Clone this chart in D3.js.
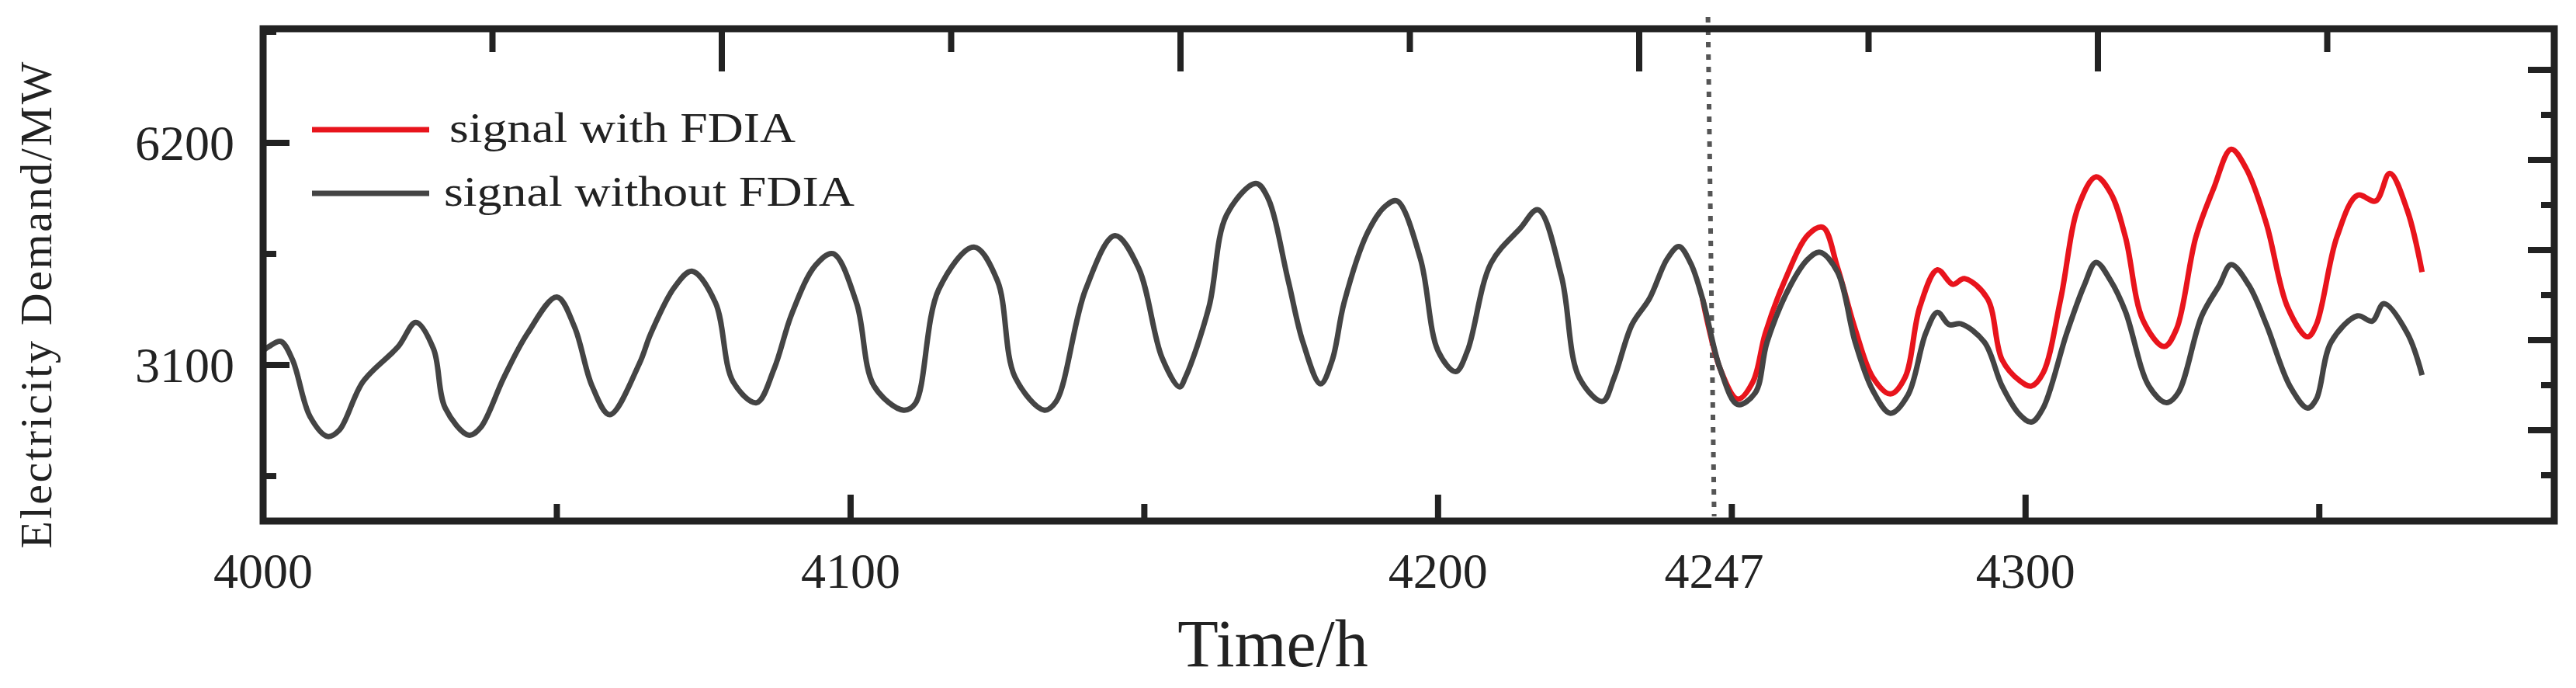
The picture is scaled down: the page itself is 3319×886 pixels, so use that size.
<!DOCTYPE html>
<html lang="en">
<head>
<meta charset="UTF-8">
<title></title>
<style type="text/css">
    body { margin: 0; background: #fff; }
    text { font-family: "Liberation Serif", "DejaVu Serif", serif; fill: #222; }
</style>
</head>
<body>
<script src="https://d3js.org/d3.v7.min.js"></script>
<script type="text/javascript">
    var width = 3319,
        height = 886;

    // signal without FDIA: [hour, MW]
    var hoursBase = [4000,4001,4003,4005,4008,4011,4013,4017,4023,4026,4029,4031,4035,4037,4041,4045,4050,4053,4056,4059,4064,4066,4070,4073,4077,4080,4084,4087,4090,4094,4097,4101,4104,4109,4111,4115,4121,4125,4128,4133,4135,4140,4145,4149,4153,4156,4157,4161,4164,4169,4171,4174.5,4177,4180,4182,4184,4188,4191,4193,4197,4200,4203,4205,4209,4214,4217,4221,4224,4228,4230,4233,4236,4239,4241,4243,4245,4248,4251,4254,4256,4260,4263,4265,4268,4271,4274,4277,4280,4283,4285,4287,4289,4293,4296,4299,4301,4303,4307,4310,4312,4314.5,4317,4321,4324,4326,4330,4333,4335,4338,4341,4345,4348,4349.5,4352,4356.5,4359,4361,4365,4367.5];
    var valuesBase = [3300,3357,3430,3173,2378,2102,2194,2867,3357,3694,3326,2500,2121,2225,2929,3540,4049,3633,2806,2408,3112,3540,4183,4410,3969,2867,2574,3051,3816,4489,4654,3969,2806,2470,2561,4153,4746,4275,2929,2470,2592,4153,4905,4459,3204,2794,2929,3908,5193,5634,5438,4275,3418,2837,3173,3969,4948,5315,5389,4581,3296,3008,3296,4520,5009,5266,4336,2929,2592,2929,3663,4030,4581,4752,4520,4030,3051,2549,2714,3418,4214,4581,4673,4397,3418,2745,2427,2684,3541,3834,3663,3675,3418,2806,2408,2304,2500,3541,4214,4532,4275,3847,2806,2574,2714,3786,4214,4501,4214,3663,2806,2500,2623,3418,3786,3712,3957,3541,2959];

    // signal with FDIA
    var hoursAttack = [4245,4248,4251,4253.6,4255.7,4259,4263,4265.5,4268,4271,4274,4277,4279.5,4282,4285,4287.6,4289.6,4293.5,4296,4299,4301,4303,4306,4309,4312,4314.5,4317,4320,4323.6,4325.7,4329,4332,4335,4337.6,4341,4344.6,4348,4349.5,4353,4356.5,4359.6,4362,4365,4367.5];
    var valuesAttack = [4030,3051,2623,2867,3541,4275,4918,5022,4459,3602,2929,2696,2929,3908,4428,4226,4306,4030,3173,2880,2806,2990,4030,5315,5725,5499,4887,3724,3357,3602,4887,5560,6111,5836,5071,3908,3492,3663,4887,5468,5389,5774,5254,4397];

    var yTickValues = [6200, 3100];
    var xTickLabels = [4000, 4100, 4200, 4247, 4300];
    var attackStart = 4247;

    var pLeft = 339, pRight = 3291, pTop = 37, pBottom = 671;

    var svg = d3.select('body').append('svg')
        .attr('width', width).attr('height', height);

    var x = d3.scaleLinear().domain([4000, 4390]).range([pLeft, pRight]);
    var y = d3.scaleLinear().domain([922, 7793]).range([pBottom, pTop]);

    // ticks (inward)
    var tickG = svg.append('g').attr('stroke', '#222').attr('stroke-width', 8);
    d3.range(4000, 4390, 50).forEach(function(t, i) {
        if (i === 0) return;
        var len = (t % 100 === 0) ? 34 : 22;
        tickG.append('line').attr('x1', x(t)).attr('x2', x(t)).attr('y1', pBottom).attr('y2', pBottom - len);
    });
    d3.range(1, 10).forEach(function(i) {
        var xx = pLeft + i * 295.5;
        tickG.append('line').attr('x1', xx).attr('x2', xx).attr('y1', pTop).attr('y2', pTop + (i % 2 === 0 ? 55 : 30));
    });
    d3.range(1550, 7793, 1550).forEach(function(v) {
        var len = (v % 3100 === 0) ? 34 : 17;
        tickG.append('line').attr('x1', pLeft).attr('x2', pLeft + len).attr('y1', y(v)).attr('y2', y(v));
    });
    d3.range(0, 10).forEach(function(i) {
        var yy = 90 + i * 58;
        tickG.append('line').attr('x1', pRight).attr('x2', pRight - (i % 2 === 0 ? 34 : 17)).attr('y1', yy).attr('y2', yy);
    });

    // dotted attack line
    svg.append('line')
        .attr('x1', x(attackStart) - 8).attr('x2', x(attackStart))
        .attr('y1', 22).attr('y2', pBottom - 6)
        .attr('stroke', '#555').attr('stroke-width', 6)
        .attr('stroke-dasharray', '7,9');

    var line = d3.line().curve(d3.curveCatmullRom)
        .x(function(d) { return x(d[0]); })
        .y(function(d) { return y(d[1]); });

    svg.append('path')
        .datum(d3.zip(hoursAttack, valuesAttack))
        .attr('d', line).attr('fill', 'none')
        .attr('stroke', '#e8141c').attr('stroke-width', 7);

    svg.append('path')
        .datum(d3.zip(hoursBase, valuesBase))
        .attr('d', line).attr('fill', 'none')
        .attr('stroke', '#444').attr('stroke-width', 7);

    // frame
    svg.append('rect')
        .attr('x', pLeft).attr('y', pTop)
        .attr('width', pRight - pLeft).attr('height', pBottom - pTop)
        .attr('fill', 'none').attr('stroke', '#222').attr('stroke-width', 9);

    // tick labels
    xTickLabels.forEach(function(t) {
        svg.append('text').attr('x', x(t)).attr('y', 757)
            .attr('text-anchor', 'middle').attr('font-size', 64).text(t);
    });
    yTickValues.forEach(function(v) {
        svg.append('text').attr('x', 302).attr('y', y(v) + 22)
            .attr('text-anchor', 'end').attr('font-size', 64).text(v);
    });

    svg.append('text').attr('x', 1640).attr('y', 858)
        .attr('text-anchor', 'middle').attr('font-size', 86).text('Time/h');

    svg.append('text')
        .attr('transform', 'translate(66,393) rotate(-90)')
        .attr('text-anchor', 'middle').attr('font-size', 58)
        .attr('textLength', 627).attr('lengthAdjust', 'spacing')
        .text('Electricity Demand/MW');

    // legend
    var legend = [
        { label: 'signal with FDIA', color: '#e8141c', ly: 167, tx: 579, tl: 446 },
        { label: 'signal without FDIA', color: '#444', ly: 249, tx: 572, tl: 529 }
    ];
    legend.forEach(function(d) {
        svg.append('line').attr('x1', 402).attr('x2', 553).attr('y1', d.ly).attr('y2', d.ly)
            .attr('stroke', d.color).attr('stroke-width', 7);
        svg.append('text').attr('x', d.tx).attr('y', d.ly + 16)
            .attr('font-size', 54).attr('textLength', d.tl).attr('lengthAdjust', 'spacingAndGlyphs')
            .text(d.label);
    });
</script>
</body>
</html>
